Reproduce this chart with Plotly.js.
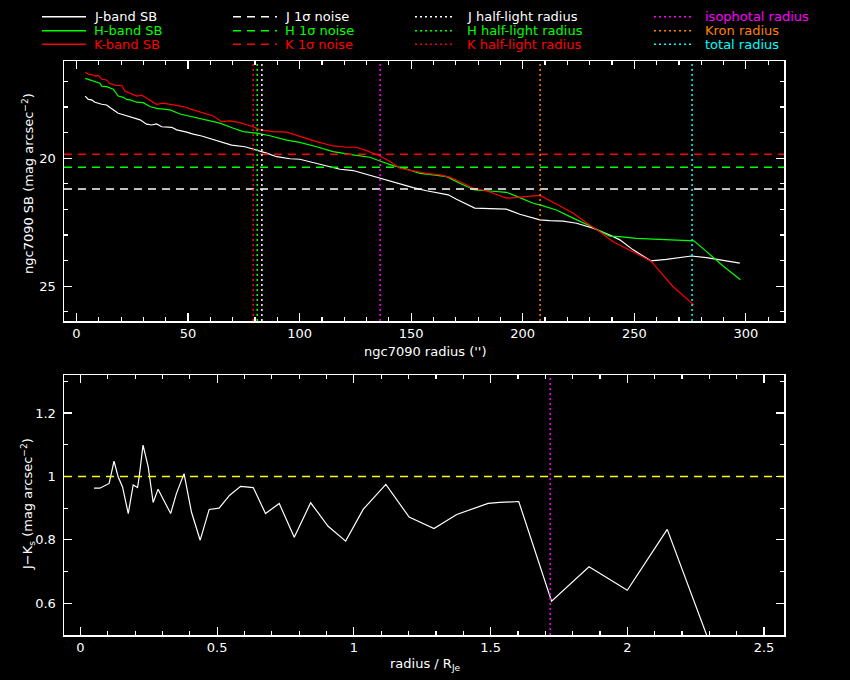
<!DOCTYPE html>
<html>
<head>
<meta charset="utf-8">
<script src="https://cdn.plot.ly/plotly-3.0.1.min.js"></script>
<style>html,body{margin:0;padding:0;background:#000;}#chart{width:850px;height:680px;}</style>
</head>
<body>
<div id="chart"></div>
<script>
// ---- data ----
const jRadius = [3.9,5.3,6.8,8.3,11.3,13.5,15,17.2,18.7,21,23.2,26.2,28.5,31.4,33.7,35.9,38.2,42.7,44.9,49.4,52.3,56.1,60.6,65.8,69.5,75.5,80.7,85.2,89.7,95.7,100.1,106.1,112.1,118.1,124,130,136,140.5,144.9,150.9,156.9,162.9,166.6,170.3,174.8,178.5,185.3,192.7,198.7,204.7,207.7,212.1,218.1,224.1,231.5,239,243.5,249.5,257.4,264.4,270.4,275.6,282.4,289.8,297.3];
const jSB = [17.57,17.70,17.72,17.81,17.89,17.92,18.02,18.14,18.24,18.30,18.36,18.44,18.50,18.67,18.70,18.66,18.77,18.79,18.89,18.98,19.06,19.13,19.26,19.39,19.49,19.55,19.68,19.80,19.94,20.02,20.04,20.17,20.30,20.43,20.48,20.63,20.78,20.91,21.02,21.15,21.27,21.37,21.43,21.60,21.80,21.95,21.97,21.99,22.19,22.33,22.41,22.44,22.46,22.54,22.73,23.00,23.19,23.58,24.01,23.95,23.88,23.82,23.88,24.00,24.10];

const hRadius = [3.9,7.5,10.5,11.3,13.5,16.5,18.7,21,22.5,24,27,29.9,32.9,35.9,41.9,46.4,52.3,58.3,64.3,70.3,74.7,80.7,86.7,94.2,100.1,107.6,115,124,131.5,136,141.9,147.9,153.9,159.9,165.9,171.8,178.5,185.3,192.7,198.7,204.7,207.7,215.1,222.6,230,239,243.5,251,258.4,265.9,273.4,276.7,282.4,289.8,297.6];
const hSB = [16.88,16.97,17.07,17.18,17.20,17.30,17.57,17.62,17.70,17.72,17.81,17.83,17.98,18.05,18.11,18.27,18.38,18.50,18.63,18.83,18.96,19.02,19.12,19.29,19.38,19.55,19.74,19.87,19.96,20.11,20.29,20.42,20.59,20.65,20.72,20.98,21.24,21.28,21.33,21.54,21.76,21.82,22.02,22.34,22.64,23.04,23.06,23.13,23.16,23.20,23.23,23.23,23.65,24.21,24.75];

const kRadius = [3.9,5.3,6.8,8.3,9.8,11.3,13.5,14.7,17.2,20.3,21.7,24,27,29.2,31.4,34.4,35.9,38.9,43.4,47.8,52.3,56.8,61.3,65,68.8,73.3,79.2,82.2,88.2,94.2,100.1,107.6,115,121.1,125.5,130,136,140.5,144.9,150.9,156.9,162.9,167.3,171.8,177.8,183.8,188.3,192.7,198.7,204.7,207.7,215.1,222.6,230,234.5,240.5,249.5,257.4,267.4,276.8];
const kSB = [16.64,16.71,16.73,16.79,16.76,16.91,16.94,17.07,17.14,17.16,17.37,17.46,17.57,17.53,17.66,17.81,17.89,17.85,17.92,17.98,18.11,18.22,18.35,18.57,18.54,18.61,18.77,18.89,18.96,18.98,19.15,19.35,19.52,19.57,19.57,19.70,19.91,20.13,20.39,20.48,20.59,20.65,20.74,20.91,21.17,21.27,21.43,21.56,21.52,21.47,21.45,21.79,22.15,22.61,22.87,23.26,23.65,24.01,25.02,25.74];

const noiseBands = ['J','H','K'];
const noiseLevels = [21.20, 20.35, 19.84];
const halfLightRadii = [83.1, 81.0, 79.2];    // J, H, K
const isophotalRadius = 136.1;
const kronRadius = 207.8;
const totalRadius = 275.9;

const colorRadius = [0.050,0.071,0.105,0.123,0.138,0.154,0.175,0.193,0.209,0.215,0.229,0.248,0.266,0.284,0.330,0.351,0.379,0.406,0.438,0.471,0.507,0.546,0.586,0.632,0.677,0.727,0.782,0.842,0.906,0.970,1.034,1.117,1.202,1.293,1.376,1.491,1.534,1.603,1.723,1.860,2.000,2.146,2.310];
const jMinusK = [0.963,0.963,0.978,1.048,0.999,0.967,0.883,0.973,0.965,0.999,1.099,1.030,0.918,0.960,0.883,0.946,1.009,0.888,0.799,0.896,0.900,0.941,0.969,0.965,0.883,0.915,0.808,0.917,0.843,0.796,0.896,0.975,0.872,0.836,0.880,0.915,0.918,0.921,0.607,0.715,0.641,0.833,0.454];
const colorReference = 1.0;
const isophotalRadiusNorm = 1.718;

const topXTicks = [0,50,100,150,200,250,300];
const topYTicks = [20,25];
const botXTicks = [0,0.5,1,1.5,2,2.5];
const botYTicks = [0.6,0.8,1,1.2];

// ---- styling ----
const WHITE='#ffffff', GREEN='#00ff00', RED='#ff0000', MAG='#ff00ff', ORANGE='#ff8000', CYAN='#00ffff', YELLOW='#ffff00';
const FONT = 'DejaVu Sans, sans-serif';
const bandColors = [WHITE, GREEN, RED];
const DASH = '8px,6px';
const DOT = '2px,3px';

const traces = [
  {x:jRadius, y:jSB, mode:'lines', line:{color:WHITE, width:1.2}, xaxis:'x', yaxis:'y', hoverinfo:'skip'},
  {x:hRadius, y:hSB, mode:'lines', line:{color:GREEN, width:1.2}, xaxis:'x', yaxis:'y', hoverinfo:'skip'},
  {x:kRadius, y:kSB, mode:'lines', line:{color:RED, width:1.2}, xaxis:'x', yaxis:'y', hoverinfo:'skip'},
  {x:colorRadius, y:jMinusK, mode:'lines', line:{color:WHITE, width:1.2}, xaxis:'x2', yaxis:'y2', hoverinfo:'skip'}
];

const shapes = [];
noiseLevels.forEach((v,i)=>{
  shapes.push({type:'line', xref:'x domain', yref:'y', x0:0, x1:1, y0:v, y1:v, line:{color:bandColors[i], width:1.5, dash:DASH}});
});
halfLightRadii.forEach((v,i)=>{
  shapes.push({type:'line', xref:'x', yref:'y domain', x0:v, x1:v, y0:0, y1:1, line:{color:bandColors[i], width:1.5, dash:DOT}});
});
[[isophotalRadius,MAG],[kronRadius,ORANGE],[totalRadius,CYAN]].forEach(([v,c])=>{
  shapes.push({type:'line', xref:'x', yref:'y domain', x0:v, x1:v, y0:0, y1:1, line:{color:c, width:1.5, dash:DOT}});
});
shapes.push({type:'line', xref:'x2 domain', yref:'y2', x0:0, x1:1, y0:colorReference, y1:colorReference, line:{color:YELLOW, width:1.5, dash:DASH}});
shapes.push({type:'line', xref:'x2', yref:'y2 domain', x0:isophotalRadiusNorm, x1:isophotalRadiusNorm, y0:0, y1:1, line:{color:MAG, width:1.5, dash:DOT}});

// ---- manual legend (4 columns x 3 rows) ----
const L = 64, PW = 720, B = 635, PH = 574;
const px = X => (X - L) / PW;
const py = Y => (B - Y) / PH;
const rowsY = [16.7, 30.7, 44.3];
const legendCols = [
  {x0:42, x1:86, tx:92, dash:'solid', items:[['J-band SB',WHITE],['H-band SB',GREEN],['K-band SB',RED]]},
  {x0:233, x1:277, tx:283, dash:DASH, items:[['J 1σ noise',WHITE],['H 1σ noise',GREEN],['K 1σ noise',RED]]},
  {x0:415, x1:455, tx:465, dash:DOT, items:[['J half-light radius',WHITE],['H half-light radius',GREEN],['K half-light radius',RED]]},
  {x0:654, x1:694, tx:703, dash:DOT, items:[['isophotal radius',MAG],['Kron radius',ORANGE],['total radius',CYAN]]}
];
const annotations = [];
legendCols.forEach(col=>{
  col.items.forEach(([txt,c],i)=>{
    const y = py(rowsY[i]);
    shapes.push({type:'line', xref:'paper', yref:'paper', x0:px(col.x0), x1:px(col.x1), y0:y, y1:y, line:{color:c, width:1.5, dash:col.dash}});
    annotations.push({xref:'paper', yref:'paper', x:px(col.tx), y:y, xanchor:'left', yanchor:'middle', text:txt, showarrow:false, font:{family:FONT, size:13, color:c}});
  });
});
// axis titles
const tf = {family:FONT, size:13, color:WHITE};
annotations.push({xref:'paper', yref:'paper', x:px(425), y:py(352), text:"ngc7090 radius ('')", showarrow:false, font:tf, xanchor:'center', yanchor:'middle'});
annotations.push({xref:'paper', yref:'paper', x:px(425), y:py(664), text:"radius / R<sub>Je</sub>", showarrow:false, font:tf, xanchor:'center', yanchor:'middle'});
annotations.push({xref:'paper', yref:'paper', x:px(28), y:py(184), text:"ngc7090 SB (mag arcsec<sup>−2</sup>)", showarrow:false, font:tf, textangle:-90, xanchor:'center', yanchor:'middle'});
annotations.push({xref:'paper', yref:'paper', x:px(28), y:py(504), text:"J−K<sub>s</sub> (mag arcsec<sup>−2</sup>)", showarrow:false, font:tf, textangle:-90, xanchor:'center', yanchor:'middle'});

function axis(extra){
  return Object.assign({
    showline:true, linecolor:WHITE, linewidth:1.5, mirror:'allticks',
    ticks:'inside', ticklen:8, tickwidth:1.2, tickcolor:WHITE,
    showgrid:false, zeroline:false,
    tickfont:{family:FONT, size:13, color:WHITE},
    tickmode:'array'
  }, extra);
}

const layout = {
  width:850, height:680,
  paper_bgcolor:'#000', plot_bgcolor:'#000',
  margin:{l:64, r:66, t:61, b:45},
  showlegend:false,
  xaxis: axis({domain:[0,1], anchor:'y', range:[-5.6,317.1], tickvals:topXTicks,
    minor:{ticks:'inside', ticklen:4, dtick:10, tick0:0, tickcolor:WHITE, tickwidth:1.2}}),
  yaxis: axis({domain:[(B-321)/PH,1], anchor:'x', range:[26.36,16.2], tickvals:topYTicks, ticklabelstandoff:4,
    minor:{ticks:'inside', ticklen:4, dtick:1, tick0:0, tickcolor:WHITE, tickwidth:1.2}}),
  xaxis2: axis({domain:[0,1], anchor:'y2', range:[-0.06,2.573], tickvals:botXTicks,
    minor:{ticks:'inside', ticklen:4, dtick:0.1, tick0:0, tickcolor:WHITE, tickwidth:1.2}}),
  yaxis2: axis({domain:[0,(B-375)/PH], anchor:'x2', range:[0.5,1.32], tickvals:botYTicks, ticklabelstandoff:4,
    minor:{ticks:'inside', ticklen:4, dtick:0.1, tick0:0, tickcolor:WHITE, tickwidth:1.2}}),
  shapes:shapes,
  annotations:annotations
};

Plotly.newPlot('chart', traces, layout, {displayModeBar:false, staticPlot:true});
</script>
</body>
</html>
